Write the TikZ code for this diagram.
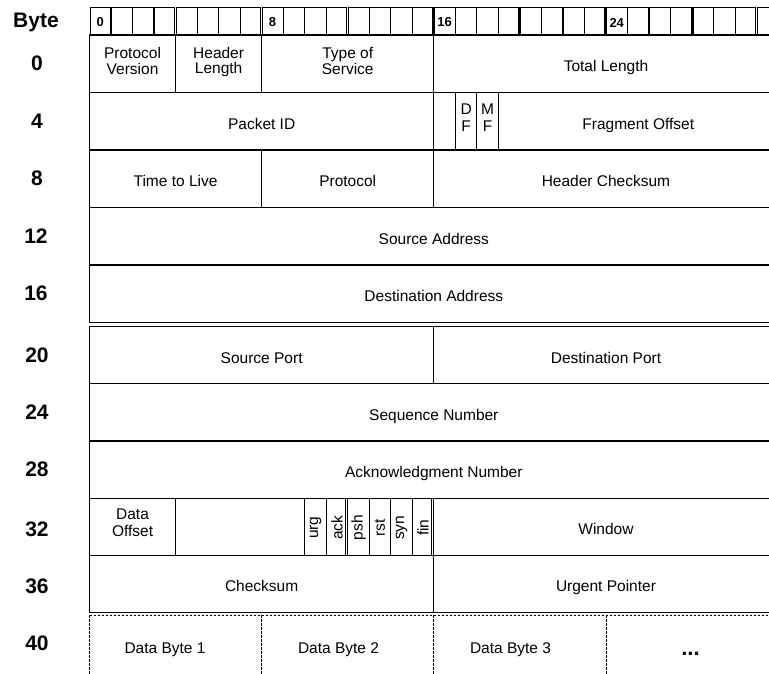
\documentclass[tikz,border=0pt]{standalone}
\usepackage{fontspec}
\setmainfont{Liberation Sans}
\newcommand{\fieldfont}{\fontsize{15.5}{16}\selectfont}
\newcommand{\bytefont}{\fontsize{21}{24}\selectfont\bfseries}
\newcommand{\bitfont}{\fontsize{13}{14}\selectfont\bfseries}
\newcommand{\fld}[6]{%
  \pgfmathsetmacro{\fxa}{89.5+21.52*#2}%
  \pgfmathsetmacro{\fxb}{89.5+21.52*#3}%
  \pgfmathsetmacro{\fw}{\fxb-\fxa}%
  \pgfmathsetmacro{\fh}{#5-#4}%
  \pgfmathsetmacro{\fcx}{(\fxa+\fxb)/2}%
  \pgfmathsetmacro{\fcy}{(#4+#5)/2}%
  \node[field, minimum width=\fw pt, minimum height=\fh pt] (#1) at (\fcx,\fcy) {#6};}
\tikzset{
  field/.style={draw, line width=1.2pt, inner sep=0pt, outer sep=0pt, font=\fieldfont, text height=16.5pt, text depth=0.5pt},
  linetext/.style={font=\fieldfont, inner sep=0pt, anchor=base},
  rulerbox/.style={draw, line width=1.2pt, inner sep=0pt, outer sep=0pt},
  bitline/.style={line width=1.2pt},
  bytelabel/.style={font=\bytefont, inner sep=0pt},
  bitlabel/.style={font=\bitfont, inner sep=0pt},
  flagtext/.style={font=\fieldfont, rotate=90, inner sep=0pt},
  datadash/.style={line width=0.9pt, dash pattern=on 2.5pt off 1.5pt},
  datatext/.style={font=\fieldfont, inner sep=0pt, anchor=base}
}
\begin{document}
\begin{tikzpicture}[x=1pt,y=-1pt]
\useasboundingbox (0,0) rectangle (769,673);
\clip (0,0) rectangle (769,673);

% ruler
\foreach \s/\e [count=\i] in {0/4,4/8,8/12,12/16,16/20,20/24,24/28,28/31,31/32} {
  \pgfmathsetmacro{\ra}{89.5+21.52*\s+0.9}
  \pgfmathsetmacro{\rb}{89.5+21.52*\e-0.9}
  \pgfmathsetmacro{\rw}{\rb-\ra}
  \pgfmathsetmacro{\rc}{(\ra+\rb)/2}
  \node[rulerbox, minimum width=\rw pt, minimum height=27.7pt] (rb\i) at (\rc,21.15) {};
}
\foreach \b in {1,2,3,5,6,7,9,10,11,13,14,15,17,18,19,21,22,23,25,26,27,29,30} {
  \draw[bitline] ({89.5+21.52*\b},7.3) -- ({89.5+21.52*\b},35);
}
\node[bitlabel] (b0) at ({89.5+21.52*0.5},22.5) {0};
\node[bitlabel] (b8) at ({89.5+21.52*8.5},22.5) {8};
\node[bitlabel] (b16) at ({89.5+21.52*16.5},22.5) {16};
\node[bitlabel] (b24) at ({89.5+21.52*24.5},22.5) {24};

% byte labels
\node[bytelabel] (lbyte) at (36,22) {Byte};
\node[bytelabel] (l0) at (37,63.75) {0};
\node[bytelabel] (l4) at (37,121.25) {4};
\node[bytelabel] (l8) at (37,178.75) {8};
\node[bytelabel] (l12) at (36,236.25) {12};
\node[bytelabel] (l16) at (36,293.75) {16};
\node[bytelabel] (l20) at (37,355.1) {20};
\node[bytelabel] (l24) at (37,412.3) {24};
\node[bytelabel] (l28) at (37,469.5) {28};
\node[bytelabel] (l32) at (37,529) {32};
\node[bytelabel] (l36) at (37,585.9) {36};
\node[bytelabel] (l40) at (37,643) {40};

% IP header
\fld{pv}{0}{4}{35}{92.5}{}
\fld{hl}{4}{8}{35}{92.5}{}
\fld{tos}{8}{16}{35}{92.5}{}
\node[linetext] (pv1) at (pv.center |- 0,58.5) {Protocol};
\node[linetext] (pv2) at (pv.center |- 0,74) {Version};
\node[linetext] (hl1) at (hl.center |- 0,58.5) {Header};
\node[linetext] (hl2) at (hl.center |- 0,73.5) {Length};
\node[linetext] (tos1) at (tos.center |- 0,58.5) {Type of};
\node[linetext] (tos2) at (tos.center |- 0,74) {Service};
\fld{tl}{16}{32}{35}{92.5}{Total Length}
\fld{pid}{0}{16}{92.5}{150}{Packet ID}
\fld{rsvip}{16}{17}{92.5}{150}{}
\fld{df}{17}{18}{92.5}{150}{}
\fld{mf}{18}{19}{92.5}{150}{}
\node[linetext] (df1) at (df.center |- 0,114) {D};
\node[linetext] (df2) at (df.center |- 0,131.7) {F};
\node[linetext] (mf1) at (mf.center |- 0,114) {M};
\node[linetext] (mf2) at (mf.center |- 0,131.7) {F};
\fld{fo}{19}{32}{92.5}{150}{Fragment Offset}
\fld{ttl}{0}{8}{150}{207.5}{Time to Live}
\fld{proto}{8}{16}{150}{207.5}{Protocol}
\fld{hcs}{16}{32}{150}{207.5}{Header Checksum}
\fld{src}{0}{32}{207.5}{265}{Source Address}
\fld{dst}{0}{32}{265}{322.5}{Destination Address}

% TCP header
\fld{sport}{0}{16}{326.5}{383.7}{Source Port}
\fld{dport}{16}{32}{326.5}{383.7}{Destination Port}
\fld{seq}{0}{32}{383.7}{440.9}{Sequence Number}
\fld{ackn}{0}{32}{440.9}{498.1}{Acknowledgment Number}
\fld{doff}{0}{4}{498.1}{555.3}{}
\node[linetext] (doff1) at (doff.center |- 0,519.3) {Data};
\node[linetext] (doff2) at (doff.center |- 0,536.7) {Offset};
\fld{rsvtcp}{4}{10}{498.1}{555.3}{}
\fld{furg}{10}{11}{498.1}{555.3}{}
\fld{fack}{11}{12}{498.1}{555.3}{}
\fld{fpsh}{12}{13}{498.1}{555.3}{}
\fld{frst}{13}{14}{498.1}{555.3}{}
\fld{fsyn}{14}{15}{498.1}{555.3}{}
\fld{ffin}{15}{16}{498.1}{555.3}{}
\fld{win}{16}{32}{498.1}{555.3}{Window}
\draw[bitline] ({89.5+21.52*12-2.3},498.1) -- ({89.5+21.52*12-2.3},555.3);
\draw[bitline] ({89.5+21.52*16-2.5},498.1) -- ({89.5+21.52*16-2.5},555.3);
\node[flagtext] (turg) at ([yshift=-1pt]furg.center) {urg};
\node[flagtext] (tack) at ([yshift=-1pt]fack.center) {ack};
\node[flagtext] (tpsh) at ([yshift=-1pt]fpsh.center) {psh};
\node[flagtext] (trst) at ([yshift=-1pt]frst.center) {rst};
\node[flagtext] (tsyn) at ([yshift=-1pt]fsyn.center) {syn};
\node[flagtext] (tfin) at ([yshift=-1pt]ffin.center) {fin};
\fld{csum}{0}{16}{555.3}{612.5}{Checksum}
\fld{uptr}{16}{32}{555.3}{612.5}{Urgent Pointer}

% data row
\coordinate (d0) at (89.5,615);
\coordinate (d8) at ({89.5+21.52*8},615);
\coordinate (d16) at ({89.5+21.52*16},615);
\coordinate (d24) at ({89.5+21.52*24},615);
\coordinate (d32) at ({89.5+21.52*32},615);
\draw[datadash] (d0) -- (d32);
\draw[datadash] (d0) -- ++(0,70);
\draw[datadash] (d8) -- ++(0,70);
\draw[datadash] (d16) -- ++(0,70);
\draw[datadash] (d24) -- ++(0,70);
\node[datatext] (db1) at (165,653.3) {Data Byte 1};
\node[datatext] (db2) at (338.5,653.3) {Data Byte 2};
\node[datatext] (db3) at (510.5,653.3) {Data Byte 3};
\node[font=\fontsize{22}{24}\selectfont\bfseries, inner sep=0pt, anchor=base] (dots) at (690.5,655) {...};
\end{tikzpicture}
\end{document}
